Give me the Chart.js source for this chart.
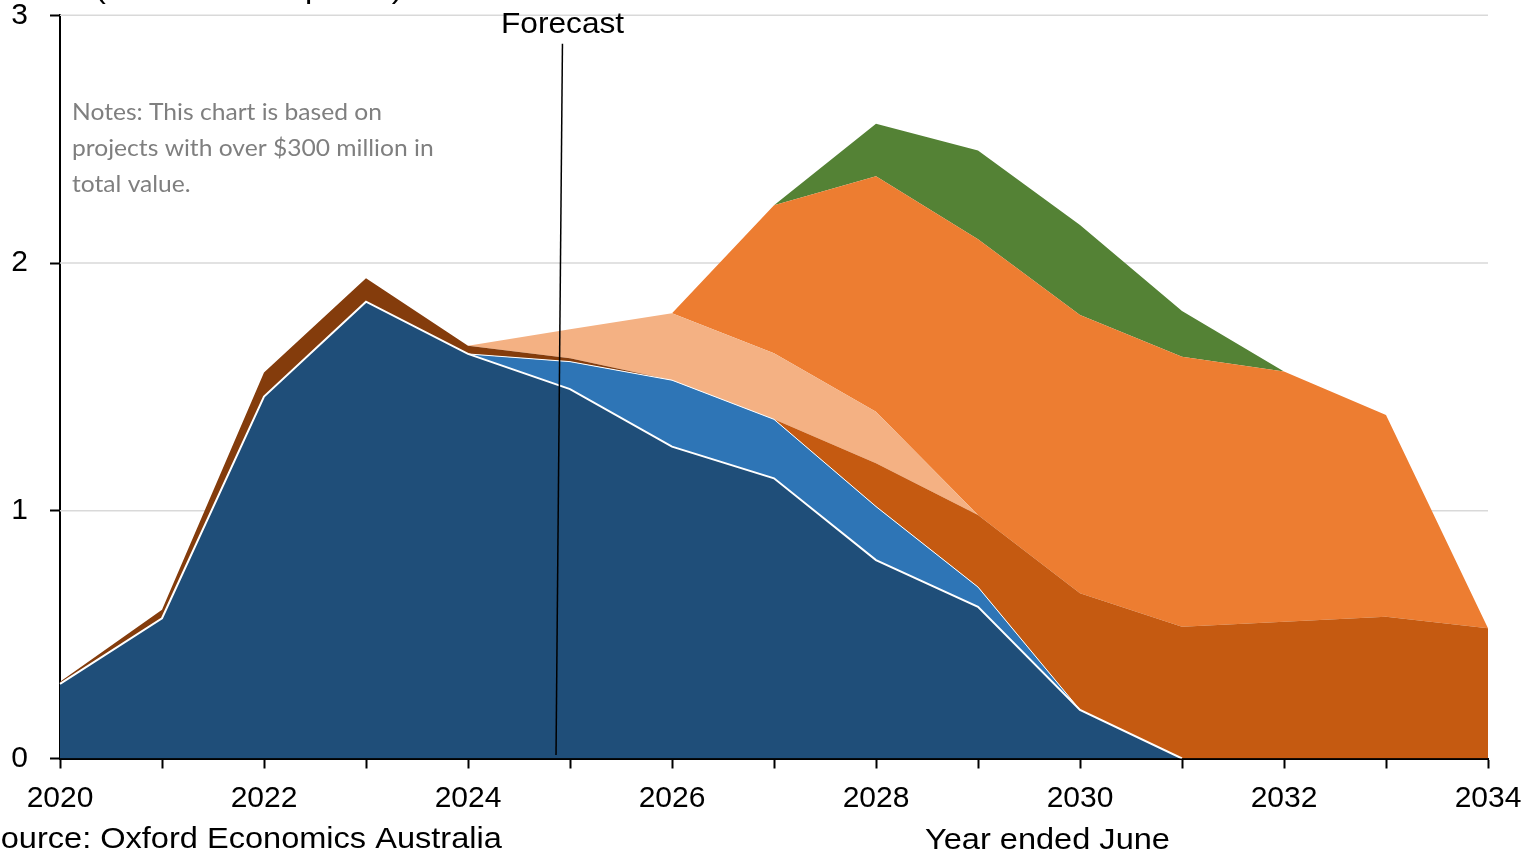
<!DOCTYPE html>
<html>
<head>
<meta charset="utf-8">
<script src="https://cdn.jsdelivr.net/npm/chart.js@4.4.1/dist/chart.umd.min.js"></script>
<style>
  html, body { margin: 0; padding: 0; background: #ffffff; overflow: hidden; }
  #wrap { width: 1526px; height: 856px; position: relative; }
</style>
</head>
<body>
<div id="wrap"><canvas id="chart" width="1526" height="856"></canvas></div>
<script>
// Financial years (year ended June)
const years = ['2020','2021','2022','2023','2024','2025','2026','2027','2028','2029','2030','2031','2032','2033','2034'];

// Stacked series, $b per year (bottom to top)
const navySeries   = [0.301, 0.566, 1.461, 1.844, 1.633, 1.491, 1.259, 1.131, 0.801, 0.612, 0.196, 0, 0, 0, 0];
const blueSeries   = [0, 0, 0, 0, 0, 0.111, 0.268, 0.238, 0.216, 0.080, 0, 0, 0, 0, 0];
const brownSeries  = [0.009, 0.034, 0.097, 0.095, 0.033, 0.014, 0, 0, 0, 0, 0, 0, 0, 0, 0];
const rustSeries   = [0, 0, 0, 0, 0, 0, 0, 0, 0.175, 0.291, 0.471, 0.532, 0.552, 0.572, 0.526];
const peachSeries  = [0, 0, 0, 0, 0, 0.117, 0.270, 0.267, 0.208, 0, 0, 0, 0, 0, 0];
const orangeSeries = [0, 0, 0, 0, 0, 0, 0, 0.597, 0.950, 1.113, 1.123, 1.090, 1.010, 0.815, 0];
const greenSeries  = [0, 0, 0, 0, 0, 0, 0, 0, 0.212, 0.358, 0.364, 0.184, 0, 0, 0];

// Y axis ticks
const yTicks = [0, 1, 2, 3];

// Forecast marker: start and end positions on the category axis (index units)
const forecastTop = { x: 4.926, y: 2.885 };
const forecastBottom = { x: 4.863, y: 0.014 };

const TICK_FONT = { family: "'Liberation Sans', Arial, sans-serif", size: 30 };

// hide a white outline where a series is zero on both ends of a segment
const hideZero = (color) => (ctx) =>
  (ctx.p0.raw === 0 && ctx.p1.raw === 0) ? 'rgba(0,0,0,0)' : color;

function areaSet(label, data, color, fill, outline, outlineWidth) {
  return {
    label,
    data,
    backgroundColor: color,
    borderColor: outline || 'rgba(0,0,0,0)',
    borderWidth: outlineWidth || 0.01,
    fill,
    pointRadius: 0,
    tension: 0,
    segment: outline ? { borderColor: hideZero(outline) } : undefined
  };
}

function drawStretched(ctx, text, x, y, font, color, sx) {
  ctx.save();
  ctx.font = font;
  ctx.fillStyle = color;
  ctx.textAlign = 'left';
  ctx.textBaseline = 'alphabetic';
  ctx.translate(x, y);
  ctx.scale(sx, 1);
  ctx.fillText(text, 0, 0);
  ctx.restore();
}

const overlay = {
  id: 'overlay',
  beforeDatasetsDraw(chart) {
    // light horizontal gridlines behind the areas
    const { ctx, chartArea, scales } = chart;
    ctx.save();
    ctx.strokeStyle = '#d9d9d9';
    ctx.lineWidth = 1.5;
    yTicks.forEach(v => {
      if (v === 0) return;
      const py = scales.y.getPixelForValue(v);
      ctx.beginPath();
      ctx.moveTo(chartArea.left, py);
      ctx.lineTo(chartArea.right, py);
      ctx.stroke();
    });
    ctx.restore();
  },
  afterDatasetsDraw(chart) {
    // forecast divider
    const { ctx, scales } = chart;
    ctx.save();
    ctx.strokeStyle = '#000000';
    ctx.lineWidth = 1.5;
    ctx.beginPath();
    ctx.moveTo(scales.x.getPixelForValue(forecastTop.x), scales.y.getPixelForValue(forecastTop.y));
    ctx.lineTo(scales.x.getPixelForValue(forecastBottom.x), scales.y.getPixelForValue(forecastBottom.y));
    ctx.stroke();
    ctx.restore();
  },
  afterDraw(chart) {
    const { ctx } = chart;
    const arial = "30px 'Liberation Sans', Arial, sans-serif";
    drawStretched(ctx, '(real 2023–24 prices)', 95, -2, arial, '#000000', 1.085);
    drawStretched(ctx, 'Forecast', 501, 33, arial, '#000000', 1.055);
    const notesFont = "23px Lato, 'Open Sans', sans-serif";
    drawStretched(ctx, 'Notes: This chart is based on', 72, 120, notesFont, '#7f7f7f', 1.07);
    drawStretched(ctx, 'projects with over $300 million in', 72, 156, notesFont, '#7f7f7f', 1.07);
    drawStretched(ctx, 'total value.', 72, 192, notesFont, '#7f7f7f', 1.07);
    drawStretched(ctx, 'Source: Oxford Economics Australia', -21, 848, arial, '#000000', 1.085);
    drawStretched(ctx, 'Year ended June', 925, 849, arial, '#000000', 1.085);
  }
};

new Chart(document.getElementById('chart'), {
  type: 'line',
  data: {
    labels: years,
    datasets: [
      areaSet('navy', navySeries, '#1f4e79', 'origin', '#ffffff', 2),
      areaSet('blue', blueSeries, '#2e75b6', '-1', '#ffffff', 1),
      areaSet('brown', brownSeries, '#843c0c', '-1'),
      areaSet('rust', rustSeries, '#c55a11', '-1'),
      areaSet('peach', peachSeries, '#f4b183', '-1'),
      areaSet('orange', orangeSeries, '#ed7d31', '-1'),
      areaSet('green', greenSeries, '#548235', '-1')
    ]
  },
  options: {
    responsive: false,
    animation: false,
    events: [],
    layout: { padding: { top: 15.3, right: 38, left: 0, bottom: 0 } },
    plugins: {
      legend: { display: false },
      tooltip: { enabled: false },
      filler: { propagate: false }
    },
    scales: {
      x: {
        type: 'category',
        offset: false,
        z: 1,
        afterFit: (s) => { s.height = 97.5; s.paddingLeft = 0; s.paddingRight = 0; },
        grid: { display: true, drawOnChartArea: false, drawTicks: true, tickLength: 10, tickColor: '#000000', tickWidth: 2 },
        border: { display: true, color: '#000000', width: 2 },
        ticks: {
          autoSkip: false,
          maxRotation: 0,
          minRotation: 0,
          padding: 12,
          color: '#000000',
          font: TICK_FONT,
          callback: (v, i) => (i % 2 === 0 ? years[i] : '')
        }
      },
      y: {
        stacked: true,
        min: 0,
        max: 3,
        z: 1,
        afterFit: (s) => { s.width = 60; s.paddingTop = 0; s.paddingBottom = 0; },
        afterBuildTicks: (s) => { s.ticks = yTicks.map(v => ({ value: v })); },
        grid: { display: true, drawOnChartArea: false, drawTicks: true, tickLength: 10, tickColor: '#000000', tickWidth: 2 },
        border: { display: true, color: '#000000', width: 2 },
        ticks: { padding: 22, color: '#000000', font: TICK_FONT }
      }
    }
  },
  plugins: [overlay]
});
</script>
</body>
</html>
